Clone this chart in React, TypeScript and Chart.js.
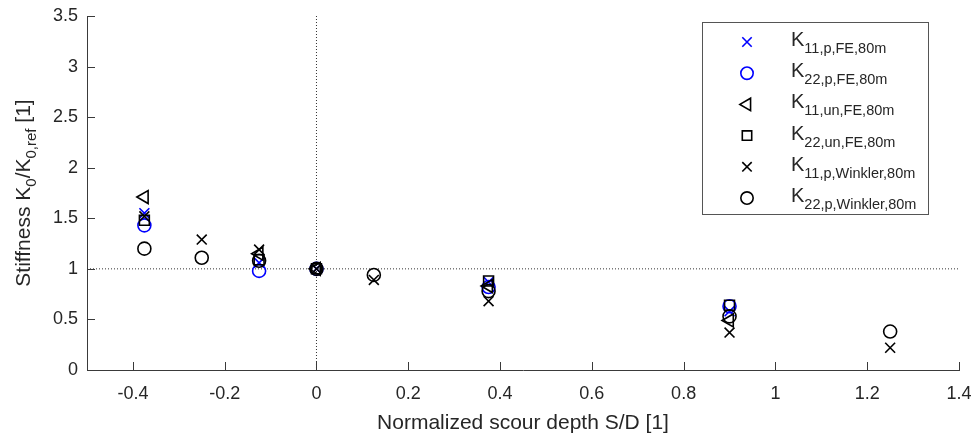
import React, { useEffect, useRef } from "react";
import { Chart, registerables } from "chart.js";
import { drawPoint } from "chart.js/helpers";

Chart.register(...registerables);

// Normalized scour depth S/D at which each model was evaluated
const feDepth = [-0.375, -0.125, 0, 0.375, 0.9];
const winklerDepth = [-0.375, -0.25, -0.125, 0, 0.125, 0.375, 0.9, 1.25];

// Stiffness ratio K0 / K0,ref
const k11pFE = [1.55, 1.06, 1.0, 0.87, 0.58];
const k22pFE = [1.43, 0.98, 1.0, 0.82, 0.63];
const k11unFE = [1.71, 1.15, 1.0, 0.83, 0.49];
const k22unFE = [1.48, 1.09, 1.0, 0.88, 0.64];
const k11pWinkler = [1.52, 1.29, 1.19, 1.0, 0.89, 0.68, 0.37, 0.22];
const k22pWinkler = [1.2, 1.11, 1.08, 1.0, 0.94, 0.78, 0.53, 0.38];

const xTicks = [-0.4, -0.2, 0, 0.2, 0.4, 0.6, 0.8, 1, 1.2, 1.4];
const yTicks = [0, 0.5, 1, 1.5, 2, 2.5, 3, 3.5];

const FONT = "'Liberation Sans', Arial, sans-serif";
const TEXT = "#262626";
const AXIS = "#3a3a3a";
const BLUE = "#0000ff";

type Seg = { t: string; sub?: boolean };

const seriesDefs = [
  { sub: "11,p,FE,80m", x: feDepth, y: k11pFE, style: "crossRot", color: BLUE, r: 7, rot: 0 },
  { sub: "22,p,FE,80m", x: feDepth, y: k22pFE, style: "circle", color: BLUE, r: 6.5, rot: 0 },
  { sub: "11,un,FE,80m", x: feDepth, y: k11unFE, style: "triangle", color: "#000", r: 7.5, rot: 270 },
  { sub: "22,un,FE,80m", x: feDepth, y: k22unFE, style: "rect", color: "#000", r: 7, rot: 0 },
  { sub: "11,p,Winkler,80m", x: winklerDepth, y: k11pWinkler, style: "crossRot", color: "#000", r: 7, rot: 0 },
  { sub: "22,p,Winkler,80m", x: winklerDepth, y: k22pWinkler, style: "circle", color: "#000", r: 6.5, rot: 0 },
];

function drawRich(ctx: CanvasRenderingContext2D, segs: Seg[], x: number, y: number, main: number, sub: number, subDrop: number, align: "left" | "center") {
  const width = segs.reduce((w, s) => {
    ctx.font = `${s.sub ? sub : main}px ${FONT}`;
    return w + ctx.measureText(s.t).width;
  }, 0);
  let cx = align === "center" ? x - width / 2 : x;
  ctx.textAlign = "left";
  ctx.textBaseline = "alphabetic";
  for (const s of segs) {
    ctx.font = `${s.sub ? sub : main}px ${FONT}`;
    ctx.fillText(s.t, cx, y + (s.sub ? subDrop : 0));
    cx += ctx.measureText(s.t).width;
  }
}

const decorations = {
  id: "decorations",
  beforeDatasetsDraw(chart: any) {
    const { ctx, chartArea: a, scales } = chart;
    const x0 = scales.x.getPixelForValue(0);
    const y1 = scales.y.getPixelForValue(1);
    ctx.save();
    ctx.strokeStyle = "#333";
    ctx.lineWidth = 1;
    ctx.setLineDash([1, 2]);
    ctx.beginPath();
    ctx.moveTo(a.left, y1);
    ctx.lineTo(a.right, y1);
    ctx.moveTo(x0, a.top);
    ctx.lineTo(x0, a.bottom);
    ctx.stroke();
    ctx.restore();
  },
  afterDraw(chart: any) {
    const { ctx, chartArea: a, scales } = chart;
    ctx.save();
    // inward tick marks
    ctx.strokeStyle = AXIS;
    ctx.lineWidth = 1;
    ctx.beginPath();
    for (const v of xTicks) {
      const px = Math.round(scales.x.getPixelForValue(v)) + 0.5;
      ctx.moveTo(px, a.bottom);
      ctx.lineTo(px, a.bottom - 8);
    }
    for (const v of yTicks) {
      const py = Math.round(scales.y.getPixelForValue(v)) + 0.5;
      ctx.moveTo(a.left, py);
      ctx.lineTo(a.left + 8, py);
    }
    ctx.stroke();

    // axis titles
    ctx.fillStyle = TEXT;
    drawRich(ctx, [{ t: "Normalized scour depth S/D [1]" }], (a.left + a.right) / 2, 429, 21, 15, 0, "center");
    ctx.save();
    ctx.translate(30, 193);
    ctx.rotate(-Math.PI / 2);
    drawRich(
      ctx,
      [{ t: "Stiffness K" }, { t: "0", sub: true }, { t: "/K" }, { t: "0,ref", sub: true }, { t: " [1]" }],
      0, 0, 21, 15, 6, "center"
    );
    ctx.restore();

    // legend
    const lx = 702.5, ly = 22.5, lw = 226, lh = 192;
    ctx.fillStyle = "#fff";
    ctx.fillRect(lx, ly, lw, lh);
    ctx.strokeStyle = "#555";
    ctx.lineWidth = 1;
    ctx.strokeRect(lx, ly, lw, lh);
    seriesDefs.forEach((s, i) => {
      const cy = 42 + i * 31.2;
      ctx.strokeStyle = s.color;
      ctx.fillStyle = "transparent";
      ctx.lineWidth = 1.6;
      drawPoint(ctx, { pointStyle: s.style as any, radius: s.r * 0.95, rotation: s.rot, borderWidth: 1.6 }, 747, cy);
      ctx.fillStyle = TEXT;
      drawRich(ctx, [{ t: "K" }, { t: s.sub, sub: true }], 791, cy + 4, 20, 14.5, 7, "left");
    });
    ctx.restore();
  },
};

export default function App() {
  const ref = useRef<HTMLCanvasElement>(null);

  useEffect(() => {
    if (!ref.current) return;
    const chart = new Chart(ref.current, {
      type: "scatter",
      data: {
        // later series are painted over earlier ones
        datasets: seriesDefs.map((s, i) => ({
          label: "K" + s.sub,
          data: s.x.map((x, j) => ({ x, y: s.y[j] })),
          order: seriesDefs.length - i,
          pointStyle: s.style as any,
          pointRadius: s.r,
          pointRotation: s.rot,
          pointBorderWidth: 1.6,
          borderColor: s.color,
          backgroundColor: "transparent",
          showLine: false,
        })),
      },
      options: {
        responsive: false,
        animation: false,
        layout: { padding: { top: 16, right: 13, left: 0, bottom: 0 } },
        plugins: { legend: { display: false }, tooltip: { enabled: false } },
        scales: {
          x: {
            type: "linear",
            min: -0.5,
            max: 1.4,
            afterBuildTicks: (scale: any) => {
              scale.ticks = xTicks.map((value) => ({ value }));
            },
            afterFit: (scale: any) => {
              scale.height = 65;
              scale.paddingLeft = 0;
              scale.paddingRight = 0;
            },
            grid: { display: false, drawTicks: false },
            border: { display: true, color: AXIS, width: 1 },
            ticks: {
              color: TEXT,
              font: { family: FONT, size: 18 },
              padding: 13,
              maxRotation: 0,
              callback: (v: any) => String(Math.round(Number(v) * 10) / 10),
            },
          },
          y: {
            type: "linear",
            min: 0,
            max: 3.5,
            afterBuildTicks: (scale: any) => {
              scale.ticks = yTicks.map((value) => ({ value }));
            },
            afterFit: (scale: any) => {
              scale.width = 87;
              scale.paddingTop = 0;
              scale.paddingBottom = 0;
            },
            grid: { display: false, drawTicks: false },
            border: { display: true, color: AXIS, width: 1 },
            ticks: {
              color: TEXT,
              font: { family: FONT, size: 18 },
              padding: 9,
              callback: (v: any) => String(v),
            },
          },
        },
      },
      plugins: [decorations],
    });
    return () => chart.destroy();
  }, []);

  return (
    <div style={{ position: "fixed", left: 0, top: 0, width: 972, height: 435, background: "#fff" }}>
      <canvas ref={ref} width={972} height={435} style={{ display: "block" }} />
    </div>
  );
}
